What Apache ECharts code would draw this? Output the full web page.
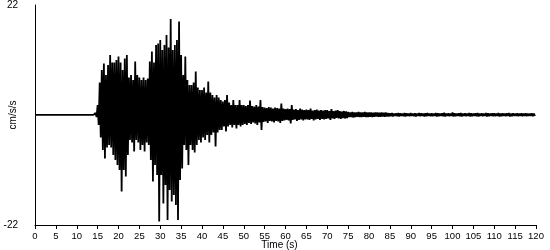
<!DOCTYPE html>
<html>
<head>
<meta charset="utf-8">
<script src="https://cdn.jsdelivr.net/npm/echarts@6/dist/echarts.min.js"></script>
<style>
html,body{margin:0;padding:0;background:#fff;}
#chart{width:550px;height:250px;}
</style>
</head>
<body>
<div id="chart"></div>
<script>
// Sampling of the record (s): envelope read every 0.5 s, starting at 0 s
const T0 = 0;
const STEP = 0.5;
// Positive peak in each 0.5 s window (cm/s/s)
const upperPeaks = [
  0.02,0.02,0.02,0.02,0.02,0.02,0.02,0.02,0.02,0.02,  // 0 - 4.5
  0.02,0.02,0.02,0.02,0.02,0.02,0.02,0.02,0.02,0.02,  // 5 - 9.5
  0.02,0.02,0.02,0.02,0.02,0.02,0.02,0.02,0.02,0.4,   // 10 - 14.5
  2,6.5,9,10.3,8,10,12,10.5,10.5,11,                   // 15 - 19.5
  11.7,10.5,9,11.3,12,7.5,8,7,10.7,8,                  // 20 - 24.5
  7.5,7,7.5,7,7.3,10.7,12.7,10.5,14,14.3,              // 25 - 29.5
  15,13,14,16,13.5,19.2,13,14,15,18.7,                 // 30 - 34.5
  12,8,11.7,7,6,6,6.5,8.7,5.5,5,                       // 35 - 39.5
  5,5.5,4.5,6.7,4.5,4,3.5,4,3.5,3,                     // 40 - 44.5
  2.7,3,4,2.5,2,3,2,2,3,2,                             // 45 - 49.5
  2,1.8,2,2.9,1.8,1.7,2,1.7,3,1.6,                     // 50 - 54.5
  1.5,1.4,1.6,1.5,1.3,1.5,1.4,1.3,2.3,1.3,             // 55 - 59.5
  1.2,1.3,1.2,2,1.1,1.2,1.0,1.3,1.1,1.0,               // 60 - 64.5
  1.1,1.0,1.3,0.9,1.0,1.1,0.9,1.0,0.9,1.0,             // 65 - 69.5
  1.0,0.8,1.2,0.8,0.9,1.0,0.8,0.7,0.8,0.7,             // 70 - 74.5
  0.6,0.5,0.6,0.5,0.5,0.6,0.5,0.5,0.6,0.5,             // 75 - 79.5
  0.5,0.5,0.45,0.5,0.5,0.45,0.5,0.45,0.5,0.4,          // 80 - 84.5
  0.35,0.4,0.3,0.35,0.4,0.35,0.3,0.4,0.35,0.3,         // 85 - 89.5
  0.4,0.3,0.35,0.3,0.4,0.35,0.3,0.35,0.4,0.3,          // 90 - 94.5
  0.35,0.3,0.4,0.35,0.3,0.35,0.45,0.3,0.35,0.3,        // 95 - 99.5
  0.5,0.35,0.3,0.35,0.4,0.3,0.35,0.3,0.4,0.35,         // 100 - 104.5
  0.3,0.35,0.4,0.3,0.35,0.3,0.4,0.35,0.3,0.35,         // 105 - 109.5
  0.35,0.3,0.4,0.3,0.35,0.3,0.35,0.4,0.3,0.35,         // 110 - 114.5
  0.3,0.35,0.3,0.35,0.3,0.35,0.3,0.3,0.35,0.3          // 115 - 119.5
];
// Negative peak in each 0.5 s window (cm/s/s)
const lowerPeaks = [
  -0.02,-0.02,-0.02,-0.02,-0.02,-0.02,-0.02,-0.02,-0.02,-0.02,
  -0.02,-0.02,-0.02,-0.02,-0.02,-0.02,-0.02,-0.02,-0.02,-0.02,
  -0.02,-0.02,-0.02,-0.02,-0.02,-0.02,-0.02,-0.02,-0.02,-0.4,
  -2,-4.5,-7,-8.7,-6.5,-6,-6.5,-8,-9,-10,
  -11,-15.3,-11,-12.3,-8,-5,-5.5,-7.3,-5,-5.5,
  -7,-6,-7.3,-5.5,-6,-9,-13.3,-10,-12,-21.3,
  -12,-17.7,-14,-21,-15,-17.3,-16,-18,-21,-13,
  -10.7,-6,-7,-10,-6,-7,-7.5,-6,-5,-5.5,
  -4.5,-5,-4,-5.5,-4,-3.5,-6.3,-3.5,-3,-3,
  -2.3,-3.3,-2.3,-2,-2.5,-2,-2.7,-2,-2.3,-2,
  -1.8,-2,-1.6,-1.8,-1.5,-1.7,-2,-1.5,-3,-1.4,
  -1.3,-1.6,-1.2,-1.3,-1.5,-1.2,-1.3,-1.6,-1.2,-1.1,
  -1.0,-1.1,-1.7,-1.0,-0.9,-1.2,-1.0,-0.9,-1.1,-0.9,
  -0.9,-1.0,-0.8,-1.1,-0.9,-0.8,-1.0,-0.8,-0.9,-0.8,
  -0.7,-1.0,-0.7,-0.8,-0.6,-0.7,-0.8,-0.6,-0.7,-0.6,
  -0.4,-0.4,-0.5,-0.4,-0.35,-0.4,-0.4,-0.35,-0.4,-0.4,
  -0.35,-0.4,-0.35,-0.3,-0.35,-0.35,-0.3,-0.35,-0.3,-0.3,
  -0.25,-0.3,-0.2,-0.25,-0.3,-0.2,-0.25,-0.3,-0.2,-0.25,
  -0.2,-0.25,-0.3,-0.2,-0.25,-0.2,-0.3,-0.25,-0.2,-0.25,
  -0.25,-0.2,-0.3,-0.25,-0.2,-0.25,-0.3,-0.2,-0.25,-0.2,
  -0.3,-0.25,-0.2,-0.25,-0.3,-0.2,-0.25,-0.2,-0.3,-0.25,
  -0.2,-0.25,-0.3,-0.2,-0.25,-0.2,-0.3,-0.25,-0.2,-0.25,
  -0.25,-0.2,-0.3,-0.25,-0.2,-0.25,-0.2,-0.3,-0.25,-0.2,
  -0.2,-0.25,-0.2,-0.25,-0.2,-0.25,-0.2,-0.2,-0.25,-0.2
];
// Axis texts
const xTitle = 'Time (s)';
const yTitle = 'cm/s/s';
const xMin = 0, xMax = 120, xStep = 5;
const yMin = -22, yMax = 22;

// Build the trace: each window contributes its positive then its negative peak
const trace = [];
for (let i = 0; i < upperPeaks.length; i++) {
  const t = T0 + i * STEP;
  trace.push([t, upperPeaks[i]]);
  trace.push([t + STEP / 2, lowerPeaks[i]]);
}

const FONT = 'Liberation Sans, Arial, sans-serif';
const chart = echarts.init(document.getElementById('chart'), null, {renderer: 'canvas'});
chart.setOption({
  animation: false,
  backgroundColor: '#ffffff',
  grid: {left: 35, right: 14, top: 5, bottom: 25, containLabel: false, outerBoundsMode: 'none'},
  xAxis: {
    type: 'value', min: xMin, max: xMax, interval: xStep,
    name: xTitle, nameLocation: 'middle', nameGap: 15, nameMoveOverlap: false,
    nameTextStyle: {color: '#000', fontSize: 10, fontFamily: FONT, padding: [0, 12, 0, 0]},
    axisLine: {show: true, onZero: false, lineStyle: {color: '#000', width: 1}},
    axisTick: {show: true, length: 4, lineStyle: {color: '#000'}},
    axisLabel: {color: '#000', fontSize: 9.5, fontFamily: FONT, margin: 6, hideOverlap: false},
    splitLine: {show: false}
  },
  yAxis: {
    type: 'value', min: yMin, max: yMax, interval: yMax - yMin,
    name: yTitle, nameLocation: 'middle', nameGap: 17, nameRotate: 90, nameMoveOverlap: false,
    nameTextStyle: {color: '#000', fontSize: 10, fontFamily: FONT},
    axisLine: {show: true, lineStyle: {color: '#000', width: 1}},
    axisTick: {show: false},
    axisLabel: {color: '#000', fontSize: 10, fontFamily: FONT, margin: 17},
    splitLine: {show: false}
  },
  series: [{
    type: 'line',
    data: trace,
    showSymbol: false,
    symbol: 'none',
    lineStyle: {color: '#000', width: 1.8, join: 'miter', miterLimit: 1},
    silent: true
  }]
});
</script>
</body>
</html>
